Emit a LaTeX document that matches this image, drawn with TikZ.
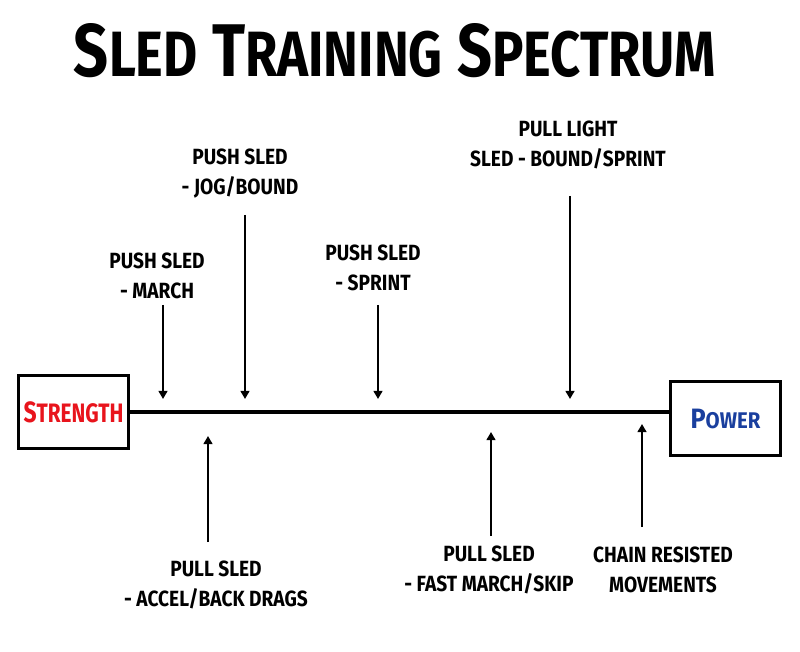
\documentclass[tikz,border=0pt]{standalone}
\usepackage{fontspec}
\newfontfamily\cf{Fira Sans}[FakeStretch=0.78]
\newfontfamily\cfl{Fira Sans}[FakeStretch=0.87]
\newfontfamily\cft{Fira Sans}[FakeStretch=0.82]
\newfontfamily\cfp{Fira Sans}[FakeStretch=0.9]
\usetikzlibrary{arrows.meta}
\definecolor{sred}{HTML}{E8141C}
\definecolor{pblue}{HTML}{1A3F9E}
\tikzset{
  lbl/.style={align=center, inner sep=0pt, font={\cfl\bfseries\fontsize{16.5}{22.5}\selectfont}},
  endbox/.style={draw, line width=2.2pt, minimum width=83pt, minimum height=55pt, inner sep=0pt},
  arr/.style={line width=1.7pt, -{Triangle[length=6pt,width=6.5pt]}},
}
\begin{document}
\begin{tikzpicture}[x=0.75pt,y=-0.75pt]
\useasboundingbox (0,0) rectangle (800,652);
% title
\node[inner sep=0pt] (title) at (395,51) {\cft\bfseries\fontsize{56}{60}\selectfont S{\fontsize{48}{50}\selectfont LED} T{\fontsize{48}{50}\selectfont RAINING} S{\fontsize{48}{50}\selectfont PECTRUM}};
% end boxes
\node[endbox] (str) at (73.5,412) {\cf\bfseries\color{sred}\fontsize{22}{24}\selectfont S{\fontsize{20}{22}\selectfont TRENGTH}};
\node[endbox] (pow) at (725.5,418.5) {\cfp\bfseries\color{pblue}\fontsize{21}{22}\selectfont P{\fontsize{17}{18}\selectfont OWER}};
\coordinate (lend) at (669,412);
\draw[line width=2.4pt] (str.east) -- (lend);
% top labels
\node[lbl] (l1) at (157,276) {PUSH SLED\\- MARCH};
\node[lbl] (l2) at (240,174) {PUSH SLED\\- JOG/BOUND};
\node[lbl] (l3) at (373,268) {PUSH SLED\\- SPRINT};
\node[lbl] (l4) at (568,145) {PULL LIGHT\\SLED - BOUND/SPRINT};
% bottom labels
\node[lbl] (b1) at (216,585) {PULL SLED\\- ACCEL/BACK DRAGS};
\node[lbl] (b2) at (489,570) {PULL SLED\\- FAST MARCH/SKIP};
\node[lbl] (b3) at (663,570) {CHAIN RESISTED\\MOVEMENTS};
% arrow endpoints
\coordinate (a1s) at (163,305); \coordinate (a1e) at (163,399);
\coordinate (a2s) at (245,215); \coordinate (a2e) at (245,399);
\coordinate (a3s) at (378,305); \coordinate (a3e) at (378,399);
\coordinate (a4s) at (570,196); \coordinate (a4e) at (570,399);
\coordinate (b1s) at (208,542); \coordinate (b1e) at (208,436);
\coordinate (b2s) at (491,536); \coordinate (b2e) at (491,432);
\coordinate (b3s) at (642,527); \coordinate (b3e) at (642,424);
\draw[arr] (a1s) -- (a1e);
\draw[arr] (a2s) -- (a2e);
\draw[arr] (a3s) -- (a3e);
\draw[arr] (a4s) -- (a4e);
\draw[arr] (b1s) -- (b1e);
\draw[arr] (b2s) -- (b2e);
\draw[arr] (b3s) -- (b3e);
\end{tikzpicture}
\end{document}
